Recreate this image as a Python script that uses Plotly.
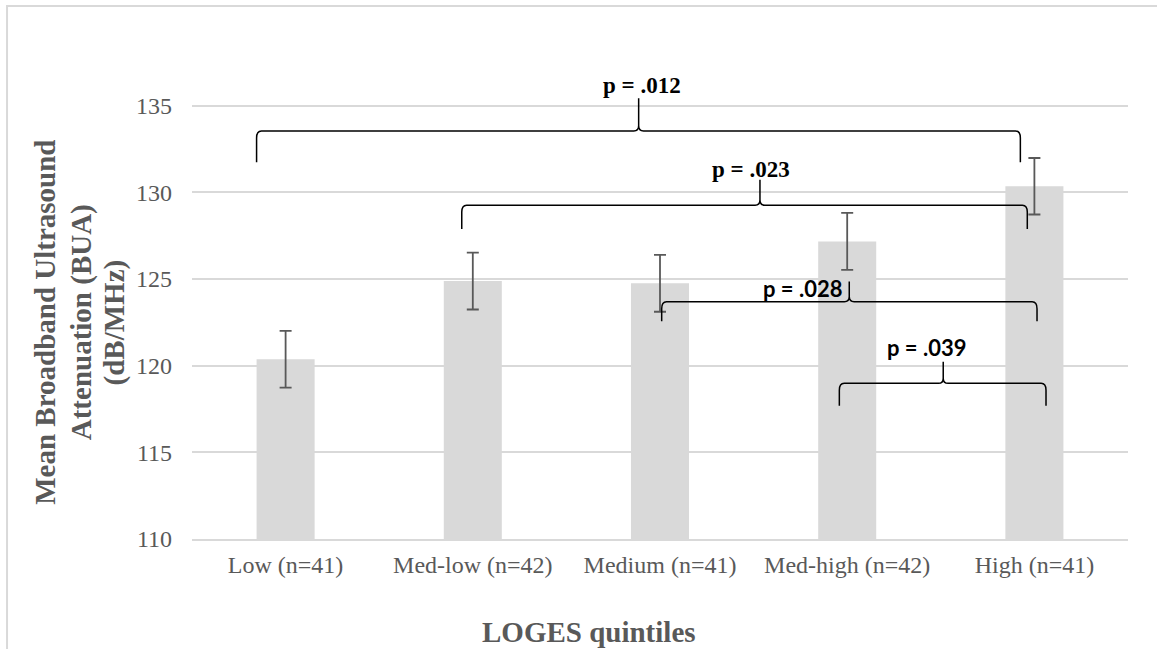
import plotly.graph_objects as go

# ---- data ----
categories = ["Low (n=41)", "Med-low (n=42)", "Medium (n=41)", "Med-high (n=42)", "High (n=41)"]
means = [120.37, 124.88, 124.75, 127.17, 130.35]
errors = [1.64, 1.64, 1.64, 1.64, 1.63]
y_ticks = [110, 115, 120, 125, 130, 135]

# brace annotations (comparison labels)
brace_labels = ["p = .012", "p = .023", "p = .028", "p = .039"]
brace_left = [-0.155, 0.941, 2.009, 2.958]
brace_right = [3.925, 3.962, 4.014, 4.062]
brace_mid = [1.886, 2.534, 3.011, 3.513]
brace_bottom = [131.73, 127.88, 122.56, 117.69]
brace_line = [133.54, 129.26, 123.69, 118.98]
brace_top = [135.43, 130.72, 124.85, 120.23]
label_x = [1.902, 2.486, 2.762, 3.422]
label_y = [136.14, 131.33, 124.47, 121.02]
label_font = ["Liberation Serif", "Liberation Serif", "Lato", "Lato"]

GRAY = "#595959"
LIGHT = "#d9d9d9"

xs = list(range(len(categories)))

fig = go.Figure()
fig.add_trace(go.Bar(
    x=xs, y=means,
    width=0.31,
    marker=dict(color=LIGHT, line=dict(width=0)),
    error_y=dict(type="data", array=errors, visible=True, color=GRAY, thickness=1.8, width=6),
    hoverinfo="skip",
))

shapes = []
annotations = []
rx = 0.026
ry_end = 0.40
ry_mid = 0.30
for i in range(len(brace_labels)):
    x0, x1, xm = brace_left[i], brace_right[i], brace_mid[i]
    yb, yh, yt = brace_bottom[i], brace_line[i], brace_top[i]
    path = (
        f"M {x0},{yb} L {x0},{yh - ry_end} Q {x0},{yh} {x0 + rx},{yh} "
        f"L {xm - rx},{yh} Q {xm},{yh} {xm},{yh + ry_mid} L {xm},{yt} "
        f"M {xm},{yt} L {xm},{yh + ry_mid} Q {xm},{yh} {xm + rx},{yh} "
        f"L {x1 - rx},{yh} Q {x1},{yh} {x1},{yh - ry_end} L {x1},{yb}"
    )
    shapes.append(dict(type="path", path=path, xref="x", yref="y",
                       line=dict(color="black", width=1.5), layer="above"))
    annotations.append(dict(
        x=label_x[i], y=label_y[i], xref="x", yref="y",
        text=f"<b>{brace_labels[i]}</b>", showarrow=False,
        xanchor="center", yanchor="middle",
        font=dict(family=label_font[i], size=23 if label_font[i] != "Lato" else 22, color="black"),
    ))

# chart-area frame
shapes.append(dict(type="rect", xref="paper", yref="paper",
                   x0=-0.1976, x1=1.2, y0=-0.3, y1=1.1389,
                   line=dict(color=LIGHT, width=2), fillcolor="rgba(0,0,0,0)", layer="below"))

# y-axis title, three lines
ytitle_lines = ["Mean Broadband Ultrasound", "Attenuation (BUA)", "(dB/MHz)"]
ytitle_x = [-0.1578, -0.1178, -0.0823]
for t, xp in zip(ytitle_lines, ytitle_x):
    annotations.append(dict(
        x=xp, y=0.4626, xref="paper", yref="paper", text=f"<b>{t}</b>",
        showarrow=False, textangle=-90, xanchor="center", yanchor="middle",
        font=dict(family="Liberation Serif", size=29, color=GRAY),
    ))

annotations.append(dict(
    x=0.4241, y=-0.1987, xref="paper", yref="paper", text="<b>LOGES quintiles</b>",
    showarrow=False, xanchor="center", yanchor="middle",
    font=dict(family="Liberation Serif", size=29, color=GRAY),
))

fig.update_layout(
    width=1157, height=649,
    margin=dict(l=192, r=29, t=71, b=110),
    paper_bgcolor="white", plot_bgcolor="white",
    showlegend=False,
    shapes=shapes, annotations=annotations,
    xaxis=dict(
        range=[-0.5, 4.5], tickmode="array", tickvals=xs, ticktext=categories,
        showgrid=False, zeroline=False, showline=True, linecolor=LIGHT, linewidth=1.5,
        ticks="", tickfont=dict(family="Liberation Serif", size=24, color=GRAY),
        ticklabelstandoff=3,
        fixedrange=True,
    ),
    yaxis=dict(
        range=[110, 137], tickmode="array", tickvals=y_ticks,
        showgrid=True, gridcolor=LIGHT, gridwidth=1.5, zeroline=False, showline=False,
        ticks="", tickfont=dict(family="Liberation Serif", size=24, color=GRAY),
        ticklabelstandoff=19,
        fixedrange=True,
    ),
)

fig.write_html(
    "out.html",
    config={"displayModeBar": False},
    post_script="document.body.style.margin='0';document.body.style.overflow='hidden';",
)
